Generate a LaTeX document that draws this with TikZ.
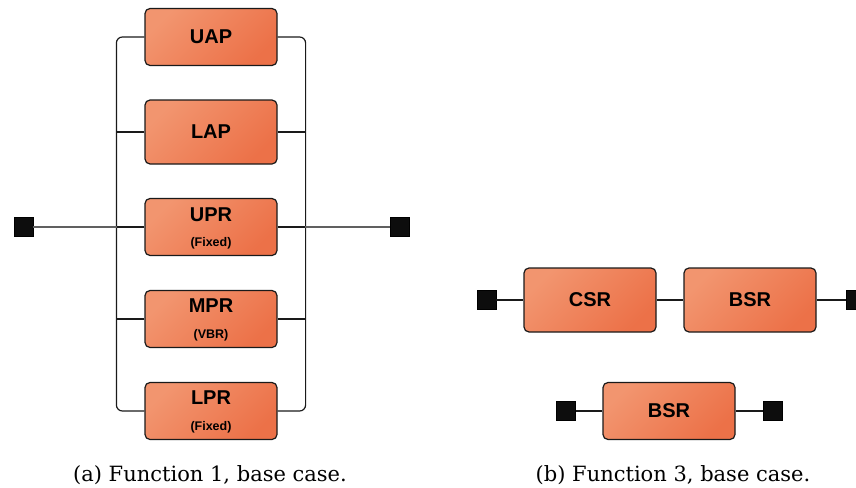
\documentclass[tikz,border=0pt]{standalone}
\usepackage{fontspec}
\setmainfont{DejaVu Serif}
\newfontfamily\boxfont{Liberation Sans}
\definecolor{boxlight}{HTML}{F2956F}
\definecolor{boxdark}{HTML}{EC7148}
\definecolor{busline}{HTML}{1A1A1A}
\definecolor{feedline}{HTML}{606060}
\tikzset{
  blk/.style={rectangle, rounded corners=5pt, draw=busline, line width=1.2pt,
    top color=boxlight, bottom color=boxdark, shading angle=45,
    minimum width=132pt, minimum height=57pt, inner sep=0pt,
    font=\boxfont\bfseries\fontsize{20}{22}\selectfont, align=center},
  tallblk/.style={blk, minimum height=64pt},
  term/.style={rectangle, fill=black!95, draw=black, line width=0.4pt,
    minimum size=19pt, inner sep=0pt},
  bus/.style={draw=busline, line width=1.2pt},
  feed/.style={draw=feedline, line width=1.1pt},
  mainlbl/.style={font=\boxfont\bfseries\fontsize{20}{22}\selectfont},
  sublbl/.style={font=\boxfont\bfseries\fontsize{12.5}{14}\selectfont},
  caption/.style={font=\fontsize{21}{25}\selectfont, anchor=base}
}
\begin{document}
\begin{tikzpicture}[x=1pt, y=-1pt]
\useasboundingbox (0,0) rectangle (856,487);

% ---- function 1: five parallel blocks ----
\node[blk]     (uap) at (211,37)    {UAP};
\node[tallblk] (lap) at (211,132)   {LAP};
\node[blk]     (upr) at (211,227)   {};
\node[blk]     (mpr) at (211,319)   {};
\node[blk]     (lpr) at (211,411)   {};
\node[mainlbl] (uprt) at (211,215) {UPR};
\node[sublbl]  (uprs) at (211,243) {(Fixed)};
\node[mainlbl] (mprt) at (211,306) {MPR};
\node[sublbl]  (mprs) at (211,335) {(VBR)};
\node[mainlbl] (lprt) at (211,398) {LPR};
\node[sublbl]  (lprs) at (211,427) {(Fixed)};

\node[term] (in1)  at (23.5,227)  {};
\node[term] (out1) at (400,227) {};

% left and right buses
\draw[bus, rounded corners=6pt] (uap.west) -- ++(-28,0) |- (lpr.west);
\draw[bus, rounded corners=6pt] (uap.east) -- ++(28,0) |- (lpr.east);
\coordinate (bl) at (117,227);
\coordinate (br) at (305,227);
\foreach \n in {lap,upr,mpr}{
  \draw[bus] (\n.west) -- (\n.west -| bl);
  \draw[bus] (\n.east) -- (\n.east -| br);
}
\draw[feed] (in1.east) -- (bl);
\draw[feed] (br) -- (out1.west);

% ---- function 3: series chain and single block ----
\node[tallblk] (csr) at (590,300) {CSR};
\node[tallblk] (bsr) at (750,300) {BSR};
\node[term] (in2)  at (486.5,300) {};
\node[term] (out2) at (856,300) {};
\draw[bus] (in2.east) -- (csr.west);
\draw[bus] (csr.east) -- (bsr.west);
\draw[bus] (bsr.east) -- (out2.west);

\node[blk] (bsr2) at (669,411) {BSR};
\node[term] (in3)  at (566,411) {};
\node[term] (out3) at (773,411) {};
\draw[bus] (in3.east) -- (bsr2.west);
\draw[bus] (bsr2.east) -- (out3.west);

% ---- captions ----
\node[caption] (capa) at (210,481) {(a) Function 1, base case.};
\node[caption] (capb) at (673,481) {(b) Function 3, base case.};
\end{tikzpicture}
\end{document}
